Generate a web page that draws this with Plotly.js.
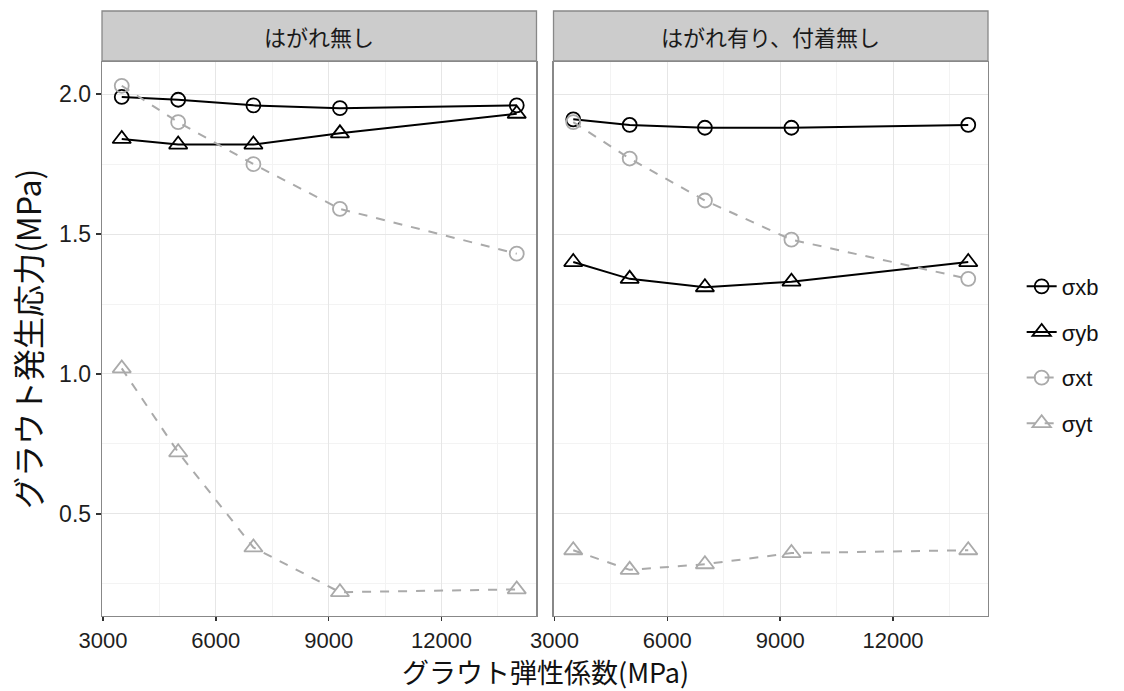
<!DOCTYPE html>
<html><head><meta charset="utf-8">
<script src="https://cdn.plot.ly/plotly-3.0.1.min.js"></script>
<style>html,body{margin:0;padding:0;background:#fff}</style>
</head><body>
<div id="chart" style="width:1124px;height:691px"></div>
<script>
const xVals = [3500, 5000, 7000, 9300, 14000];
const panels = ["はがれ無し", "はがれ有り、付着無し"];
const seriesNames = ["σxb", "σyb", "σxt", "σyt"];
// left panel (はがれ無し)
const leftXb = [1.99, 1.98, 1.96, 1.95, 1.96];
const leftYb = [1.84, 1.82, 1.82, 1.86, 1.93];
const leftXt = [2.03, 1.90, 1.75, 1.59, 1.43];
const leftYt = [1.02, 0.72, 0.38, 0.22, 0.23];
// right panel (はがれ有り、付着無し)
const rightXb = [1.91, 1.89, 1.88, 1.88, 1.89];
const rightYb = [1.40, 1.34, 1.31, 1.33, 1.40];
const rightXt = [1.90, 1.77, 1.62, 1.48, 1.34];
const rightYt = [0.37, 0.30, 0.32, 0.36, 0.37];
const xTicks = [3000, 6000, 9000, 12000];
const yTicks = [0.5, 1.0, 1.5, 2.0];
const yTickText = ["0.5", "1.0", "1.5", "2.0"];
const xTitle = "グラウト弾性係数(MPa)";
const yTitle = "グラウト発生応力(MPa)";

const FONT = "Liberation Sans, Arial, Noto Sans CJK JP, sans-serif";
const JFONT = "Noto Sans CJK JP, Liberation Sans, sans-serif";
const styles = [
  {color: "#000000", dash: "solid", symbol: "circle-open", size: 14},
  {color: "#000000", dash: "solid", symbol: "triangle-up-open", size: 16},
  {color: "#aaaaaa", dash: "dash", symbol: "circle-open", size: 14},
  {color: "#aaaaaa", dash: "dash", symbol: "triangle-up-open", size: 16}
];
const dataSets = [[leftXb, leftYb, leftXt, leftYt], [rightXb, rightYb, rightXt, rightYt]];
const traces = [];
dataSets.forEach((set, p) => {
  set.forEach((ys, i) => {
    const s = styles[i];
    traces.push({
      type: "scatter", mode: "lines+markers",
      x: xVals, y: ys, name: seriesNames[i],
      xaxis: p === 0 ? "x" : "x2", yaxis: p === 0 ? "y" : "y2",
      legendgroup: seriesNames[i], showlegend: p === 0,
      line: {color: s.color, width: 2, dash: s.dash},
      marker: {symbol: s.symbol, size: s.size, color: s.color, line: {color: s.color, width: 1.8}}
    });
  });
});

const xaxisBase = {
  range: [2975, 14525], tickvals: xTicks, ticktext: xTicks.map(String),
  ticks: "outside", ticklen: 4, tickwidth: 1.5, tickcolor: "#333",
  tickfont: {family: FONT, size: 22, color: "#1e1e1e"},
  showgrid: true, gridcolor: "#e6e6e6", gridwidth: 1,
  minor: {dtick: 1500, tick0: 3000, showgrid: true, gridcolor: "#f3f3f3", gridwidth: 1},
  showline: true, mirror: true, linecolor: "#888", linewidth: 1.3,
  zeroline: false
};
const yaxisBase = {
  range: [0.135, 2.115], tickvals: yTicks, ticktext: yTickText,
  ticks: "outside", ticklen: 5, tickwidth: 1.5, tickcolor: "#333",
  tickfont: {family: FONT, size: 23, color: "#1e1e1e"},
  showgrid: true, gridcolor: "#e6e6e6", gridwidth: 1,
  minor: {dtick: 0.25, tick0: 0, showgrid: true, gridcolor: "#f3f3f3", gridwidth: 1},
  showline: true, mirror: true, linecolor: "#888", linewidth: 1.3,
  zeroline: false
};

const stripTop = 1 + 51 / 554, stripBot = 1 + 1 / 554;
const layout = {
  width: 1124, height: 691,
  margin: {l: 102, r: 136, t: 62, b: 75},
  paper_bgcolor: "#fff", plot_bgcolor: "#fff",
  font: {family: FONT},
  xaxis: Object.assign({}, xaxisBase, {domain: [0, 0.4904], anchor: "y"}),
  xaxis2: Object.assign({}, xaxisBase, {domain: [0.5096, 1], anchor: "y2"}),
  yaxis: Object.assign({}, yaxisBase, {anchor: "x"}),
  yaxis2: Object.assign({}, yaxisBase, {anchor: "x2", matches: "y", showticklabels: false, ticks: ""}),
  showlegend: true,
  legend: {
    x: 1.038, xanchor: "left", y: 0.471, yanchor: "middle",
    font: {family: FONT, size: 22, color: "#111"},
    tracegroupgap: 14, bgcolor: "rgba(0,0,0,0)"
  },
  shapes: panels.map((t, p) => ({
    type: "rect", xref: p === 0 ? "x domain" : "x2 domain", yref: "paper",
    x0: 0, x1: 1, y0: stripBot, y1: stripTop,
    fillcolor: "#cccccc", line: {color: "#888", width: 1.3}, layer: "below"
  })),
  annotations: panels.map((t, p) => ({
    text: t, xref: p === 0 ? "x domain" : "x2 domain", yref: "paper",
    x: 0.5, y: (stripTop + stripBot) / 2, xanchor: "center", yanchor: "middle",
    showarrow: false, font: {family: JFONT, size: 22, color: "#1a1a1a"}
  })).concat([
    {text: xTitle, xref: "paper", yref: "paper", x: 0.5, y: -0.1, xanchor: "center", yanchor: "middle",
     showarrow: false, font: {family: JFONT, size: 27, color: "#111"}},
    {text: yTitle, xref: "paper", yref: "paper", x: -0.0847, y: 0.5, xanchor: "center", yanchor: "middle",
     textangle: -90, showarrow: false, font: {family: JFONT, size: 32, color: "#111"}}
  ])
};
Plotly.newPlot("chart", traces, layout, {displayModeBar: false, staticPlot: true});
</script>
</body></html>
